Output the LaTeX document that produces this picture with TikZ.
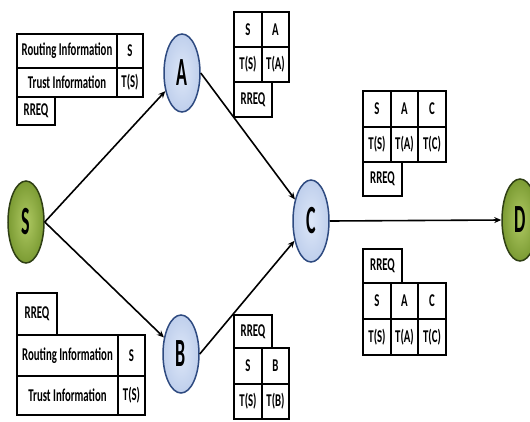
\documentclass[tikz,border=0pt]{standalone}
\usepackage{fontspec}
\newfontfamily\cellfont{Carlito}[FakeStretch=0.6]
\newfontfamily\nodefont{Carlito}[FakeStretch=0.45]
\usetikzlibrary{shapes.geometric,arrows.meta}
\definecolor{bluefill}{HTML}{BFCFEC}
\definecolor{bluein}{HTML}{DDE7F8}
\definecolor{blueline}{HTML}{2E4A80}
\definecolor{greenin}{HTML}{AFC963}
\definecolor{greenout}{HTML}{7B9B33}
\definecolor{greenline}{HTML}{2F3F14}
\begin{document}
\begin{tikzpicture}[x=1pt,y=-1pt,
  cell/.style={draw=black, line width=1.6pt, fill=white, inner sep=0pt,
    font=\cellfont\bfseries\fontsize{18}{18}\selectfont},
  bnode/.style={ellipse, draw=blueline, line width=1.5pt, inner color=bluein, outer color=bluefill,
    minimum width=36pt, minimum height=78pt, inner sep=0pt,
    font=\nodefont\bfseries\fontsize{40}{40}\selectfont},
  gnode/.style={ellipse, draw=greenline, line width=1.5pt, inner color=greenin, outer color=greenout,
    minimum width=36pt, minimum height=82pt, inner sep=0pt,
    font=\nodefont\bfseries\fontsize{40}{40}\selectfont},
  link/.style={line width=1.6pt, -{Stealth[length=7pt,width=6pt]}}]
\useasboundingbox[fill=white] (0,0) rectangle (530,421);

% nodes
\node[gnode] (S) at (26,222) {S};
\node[bnode] (A) at (182,73) {A};
\node[bnode] (B) at (181,354) {B};
\node[bnode,minimum height=82pt] (C) at (311,221) {C};
\node[gnode] (D) at (520,220) {D};

% connectors
\draw[link] (S.east) -- (A);
\draw[link] (S.east) -- (B);
\draw[link] (A.east) -- (C);
\draw[link] (B.east) -- (C);
\draw[link] (C.east) -- (D.west);

% table 1 (top left)
\node[cell, minimum width=100pt, minimum height=34pt] (t1a) at (67,51) {Routing Information};
\node[cell, minimum width=26pt, minimum height=34pt] (t1b) at (130,51) {S};
\node[cell, minimum width=100pt, minimum height=29pt] (t1c) at (67,82.5) {Trust Information};
\node[cell, minimum width=26pt, minimum height=29pt] (t1d) at (130,82.5) {T(S)};
\node[cell, minimum width=38pt, minimum height=28pt] (t1e) at (36,111) {RREQ};

% table 2 (bottom left)
\node[cell, minimum width=40pt, minimum height=42pt] (t2a) at (37,314) {RREQ};
\node[cell, minimum width=101pt, minimum height=41pt] (t2b) at (67.5,355.5) {Routing Information};
\node[cell, minimum width=27pt, minimum height=41pt] (t2c) at (131.5,355.5) {S};
\node[cell, minimum width=101pt, minimum height=39pt] (t2d) at (67.5,395.5) {Trust Information};
\node[cell, minimum width=27pt, minimum height=39pt] (t2e) at (131.5,395.5) {T(S)};

% table 3 (top middle)
\node[cell, minimum width=28pt, minimum height=35pt] (t3a) at (248,29.5) {S};
\node[cell, minimum width=27pt, minimum height=35pt] (t3b) at (275.5,29.5) {A};
\node[cell, minimum width=28pt, minimum height=35pt] (t3c) at (248,64.5) {T(S)};
\node[cell, minimum width=27pt, minimum height=35pt] (t3d) at (275.5,64.5) {T(A)};
\node[cell, minimum width=38pt, minimum height=35pt] (t3e) at (253,99.5) {RREQ};

% table 4 (top right)
\node[cell, minimum width=28pt, minimum height=36pt] (t4a) at (377,109) {S};
\node[cell, minimum width=27pt, minimum height=36pt] (t4b) at (404.5,109) {A};
\node[cell, minimum width=28pt, minimum height=36pt] (t4c) at (432,109) {C};
\node[cell, minimum width=28pt, minimum height=35pt] (t4d) at (377,144.5) {T(S)};
\node[cell, minimum width=27pt, minimum height=35pt] (t4e) at (404.5,144.5) {T(A)};
\node[cell, minimum width=28pt, minimum height=35pt] (t4f) at (432,144.5) {T(C)};
\node[cell, minimum width=39pt, minimum height=34pt] (t4g) at (382.5,179) {RREQ};

% table 5 (bottom middle)
\node[cell, minimum width=38pt, minimum height=33pt] (t5a) at (253,331.5) {RREQ};
\node[cell, minimum width=28pt, minimum height=36pt] (t5b) at (248,366) {S};
\node[cell, minimum width=27pt, minimum height=36pt] (t5c) at (275.5,366) {B};
\node[cell, minimum width=28pt, minimum height=35pt] (t5d) at (248,401.5) {T(S)};
\node[cell, minimum width=27pt, minimum height=35pt] (t5e) at (275.5,401.5) {T(B)};

% table 6 (bottom right)
\node[cell, minimum width=39pt, minimum height=34pt] (t6a) at (382.5,266) {RREQ};
\node[cell, minimum width=28pt, minimum height=36pt] (t6b) at (377,301) {S};
\node[cell, minimum width=27pt, minimum height=36pt] (t6c) at (404.5,301) {A};
\node[cell, minimum width=28pt, minimum height=36pt] (t6d) at (432,301) {C};
\node[cell, minimum width=28pt, minimum height=36pt] (t6e) at (377,337) {T(S)};
\node[cell, minimum width=27pt, minimum height=36pt] (t6f) at (404.5,337) {T(A)};
\node[cell, minimum width=28pt, minimum height=36pt] (t6g) at (432,337) {T(C)};
\end{tikzpicture}
\end{document}
